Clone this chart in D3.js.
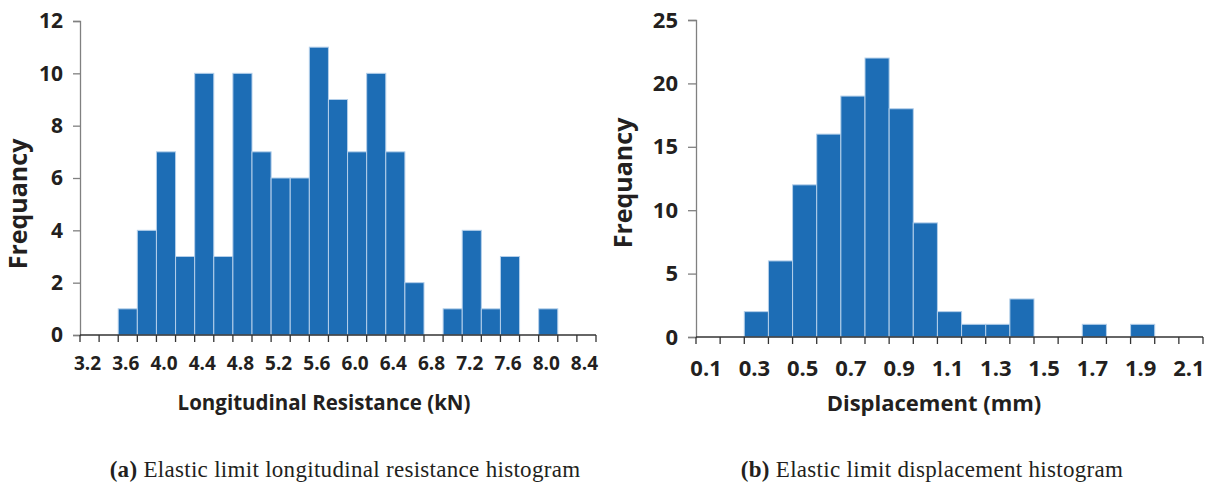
<!DOCTYPE html>
<html>
<head>
<meta charset="utf-8">
<script src="https://cdn.jsdelivr.net/npm/d3@7"></script>
<style>
  body { margin: 0; background: #fff; }
  svg text { fill: #231f20; }
</style>
</head>
<body>
<svg id="chart" width="1207" height="484"></svg>
<script>
// Histogram (a): longitudinal resistance bins (kN)
const forceBins = ["3.2","3.4","3.6","3.8","4.0","4.2","4.4","4.6","4.8","5.0","5.2","5.4","5.6","5.8",
                   "6.0","6.2","6.4","6.6","6.8","7.0","7.2","7.4","7.6","7.8","8.0","8.2","8.4"];
const forceCounts = [0,0,1,4,7,3,10,3,10,7,6,6,11,9,7,10,7,2,0,1,4,1,3,0,1,0,0];
const forceLabels = ["3.2","3.6","4.0","4.4","4.8","5.2","5.6","6.0","6.4","6.8","7.2","7.6","8.0","8.4"];
const forceYTicks = [0,2,4,6,8,10,12];

// Histogram (b): displacement bins (mm)
const dispBins = ["0.1","0.2","0.3","0.4","0.5","0.6","0.7","0.8","0.9","1.0","1.1","1.2","1.3","1.4",
                  "1.5","1.6","1.7","1.8","1.9","2.0","2.1"];
const dispCounts = [0,0,2,6,12,16,19,22,18,9,2,1,1,3,0,0,1,0,1,0,0];
const dispLabels = ["0.1","0.3","0.5","0.7","0.9","1.1","1.3","1.5","1.7","1.9","2.1"];
const dispYTicks = [0,5,10,15,20,25];

const barFill = "#1d6db5";
const barStroke = "#b4cfea";
const font = "'Open Sans', sans-serif";

const svg = d3.select("#chart");

function histogram(cfg) {
    const g = svg.append("g");

    const x = d3.scaleBand().domain(cfg.bins).range(cfg.xRange).padding(0);
    const y = d3.scaleLinear().domain(cfg.yDomain).range(cfg.yRange);

    // bars
    g.selectAll("rect.bar")
        .data(cfg.bins.map((b, i) => ({ bin: b, n: cfg.counts[i] })).filter(d => d.n > 0))
        .enter()
        .append("rect")
        .attr("class", "bar")
        .attr("x", d => x(d.bin))
        .attr("y", d => y(d.n))
        .attr("width", x.bandwidth())
        .attr("height", d => y(0) - y(d.n))
        .attr("fill", barFill)
        .attr("stroke", barStroke)
        .attr("stroke-width", 1);

    // y axis
    const yAxis = g.append("g")
        .attr("transform", `translate(${cfg.xRange[0]},0)`)
        .call(d3.axisLeft(y).tickValues(cfg.yTicks).tickSize(cfg.yTickLen).tickPadding(cfg.yPad));
    yAxis.select(".domain").attr("stroke", "#808080").attr("stroke-width", 1.3);
    yAxis.selectAll(".tick line").attr("stroke", "#808080").attr("stroke-width", 1.3);
    yAxis.selectAll(".tick text")
        .attr("font-family", font).attr("font-weight", 700)
        .attr("font-size", cfg.yFont).style("fill", "#231f20");

    // x axis line + boundary ticks
    const y0 = y(0);
    g.append("line")
        .attr("x1", cfg.xRange[0]).attr("x2", cfg.xRange[1])
        .attr("y1", y0).attr("y2", y0)
        .attr("stroke", "#333").attr("stroke-width", 1.3);
    const edges = cfg.bins.map(b => x(b)).concat([cfg.xRange[1]]);
    g.selectAll("line.xt")
        .data(edges)
        .enter()
        .append("line")
        .attr("class", "xt")
        .attr("x1", d => d).attr("x2", d => d)
        .attr("y1", y0).attr("y2", y0 + 7)
        .attr("stroke", "#333").attr("stroke-width", 1.3);

    // x tick labels (every other bin)
    g.selectAll("text.xl")
        .data(cfg.labels)
        .enter()
        .append("text")
        .attr("class", "xl")
        .attr("x", d => x(d) + x.bandwidth() / 2 - 2)
        .attr("y", cfg.xLabelY)
        .attr("text-anchor", "middle")
        .attr("font-family", font).attr("font-weight", 700)
        .attr("font-size", cfg.xFont)
        .text(d => d);

    // axis titles
    g.append("text")
        .attr("x", cfg.xTitle[0]).attr("y", cfg.xTitle[1])
        .attr("text-anchor", "middle")
        .attr("font-family", font).attr("font-weight", 700)
        .attr("font-size", cfg.xTitleFont)
        .text(cfg.xTitleText);

    g.append("text")
        .attr("transform", `translate(${cfg.yTitle[0]},${cfg.yTitle[1]}) rotate(-90)`)
        .attr("text-anchor", "middle")
        .attr("font-family", font).attr("font-weight", 700)
        .attr("font-size", 25)
        .text("Frequancy");

    // caption
    const cap = g.append("text")
        .attr("x", cfg.caption[0]).attr("y", cfg.caption[1])
        .attr("text-anchor", "middle")
        .attr("font-family", "'Liberation Serif', 'Times New Roman', serif")
        .attr("font-size", 23)
        .attr("letter-spacing", 0.3);
    cap.append("tspan").attr("font-weight", 700).text(cfg.captionTag);
    cap.append("tspan").text(" " + cfg.captionText);
}

histogram({
    bins: forceBins, counts: forceCounts, labels: forceLabels, yTicks: forceYTicks,
    xRange: [80, 596], yDomain: [0, 12], yRange: [335, 21],
    yTickLen: 7, yPad: 10, yFont: 21, xFont: 19, xLabelY: 370,
    xTitle: [324, 410], xTitleFont: 20.5, xTitleText: "Longitudinal Resistance (kN)",
    yTitle: [27, 204],
    caption: [345, 477], captionTag: "(a)", captionText: "Elastic limit longitudinal resistance histogram"
});

histogram({
    bins: dispBins, counts: dispCounts, labels: dispLabels, yTicks: dispYTicks,
    xRange: [696, 1203], yDomain: [0, 25], yRange: [337, 20],
    yTickLen: 8, yPad: 10, yFont: 22, xFont: 22, xLabelY: 376,
    xTitle: [934, 411], xTitleFont: 22, xTitleText: "Displacement (mm)",
    yTitle: [632, 183],
    caption: [932, 477], captionTag: "(b)", captionText: "Elastic limit displacement histogram"
});
</script>
</body>
</html>
